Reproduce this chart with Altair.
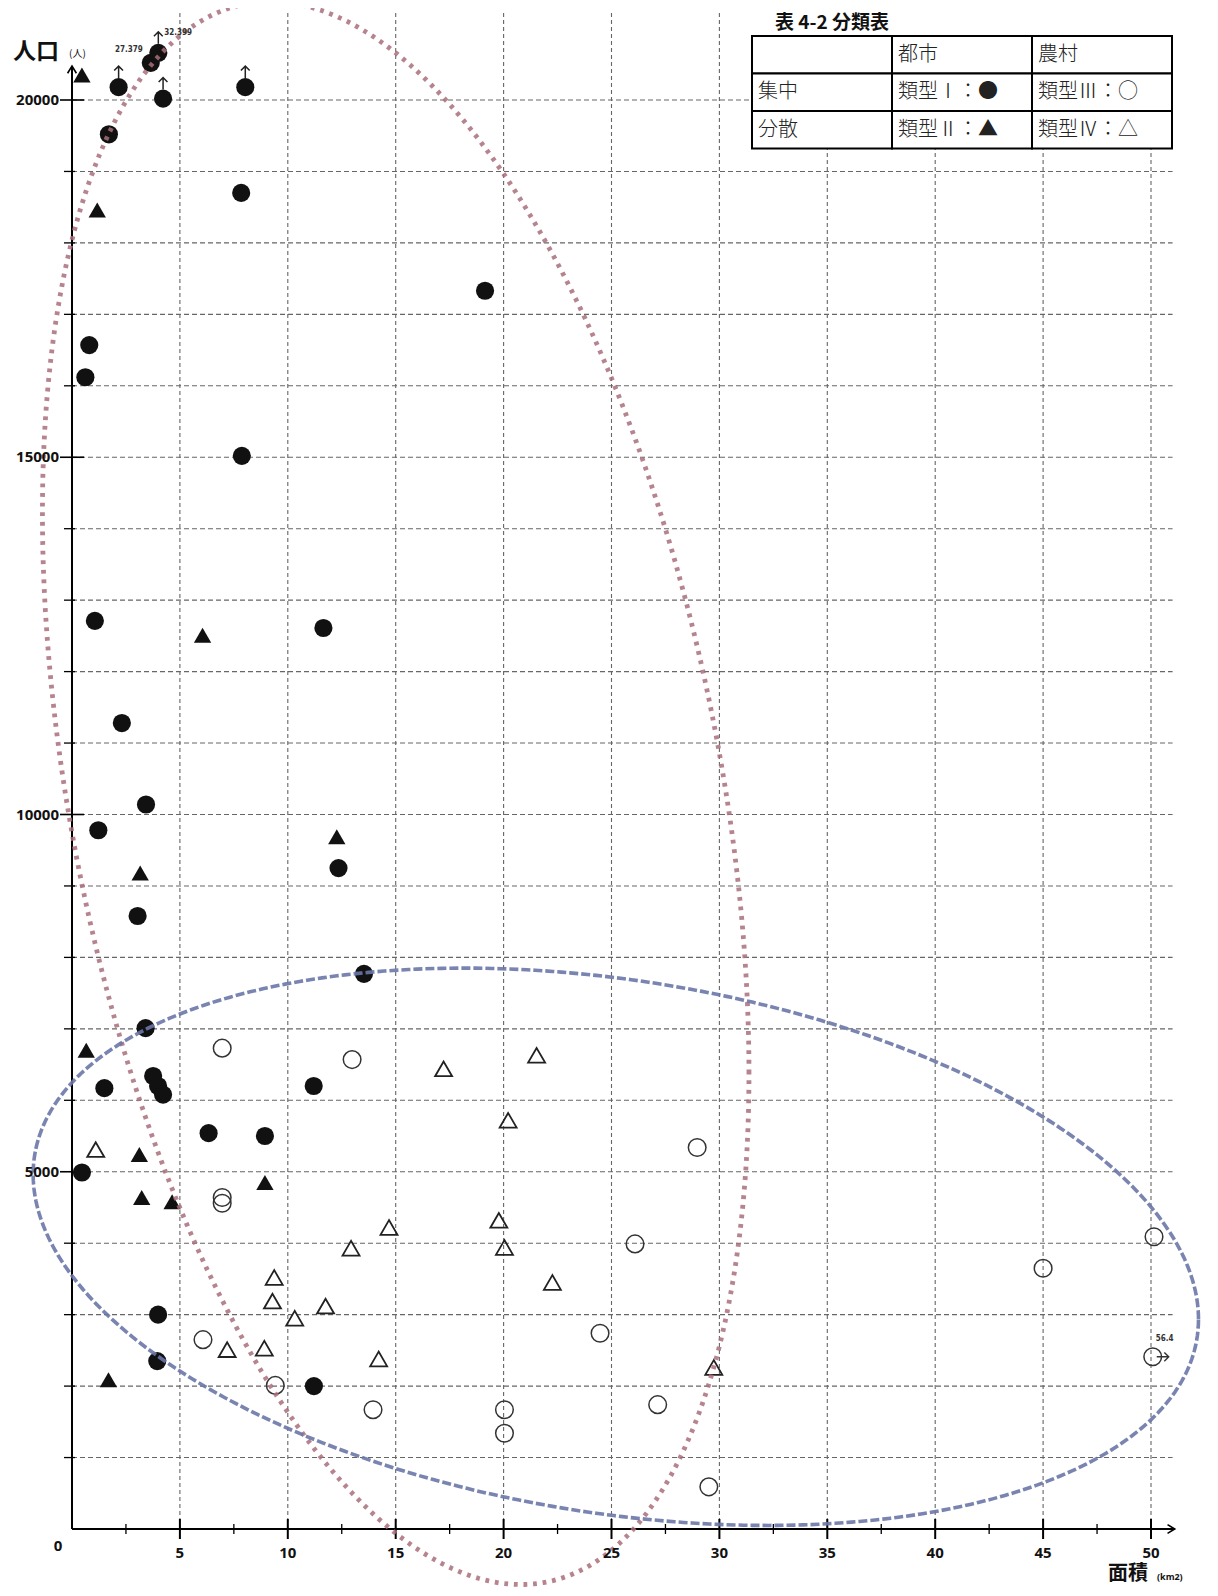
import numpy as np
import pandas as pd
import altair as alt

# ---------------- values ----------------
# 類型Ⅰ 都市・集中 (●)  area km2 / population
t1_area = [3.65, 4.00, 2.16, 4.22, 8.03, 1.71, 7.84, 19.14, 0.80, 0.62, 7.87, 1.06,
           11.65, 2.31, 3.43, 1.22, 12.35, 3.04, 13.53, 3.41, 1.50, 3.76, 3.99, 4.22,
           11.20, 6.33, 8.94, 0.46, 3.99, 3.95, 11.21]
t1_pop = [20520, 20660, 20180, 20020, 20180, 19520, 18700, 17330, 16570, 16120, 15020, 12710,
          12610, 11280, 10140, 9780, 9250, 8580, 7770, 7010, 6170, 6340, 6200, 6080,
          6200, 5540, 5500, 4990, 3000, 2350, 2000]
# off-scale markers (↑) for type I points drawn at the top edge
t1_up = [0, 1, 1, 1, 1] + [0] * 26

# 類型Ⅱ 都市・分散 (▲)
t2_area = [0.46, 1.17, 6.05, 12.27, 3.16, 0.66, 3.12, 8.94, 3.23, 4.64, 1.69]
t2_pop = [20350, 18460, 12510, 9690, 9180, 6700, 5240, 4850, 4640, 4580, 2090]

# 類型Ⅲ 農村・集中 (○)
t3_area = [6.96, 12.98, 28.97, 6.96, 6.96, 26.09, 50.14, 45.00, 24.47, 6.07, 50.08,
           9.42, 13.95, 20.04, 20.04, 27.14, 29.51]
t3_pop = [6730, 6570, 5340, 4640, 4560, 3990, 4090, 3650, 2740, 2650, 2410,
          2010, 1670, 1670, 1340, 1740, 590]

# 類型Ⅳ 農村・分散 (△)
t4_area = [17.22, 21.53, 20.21, 1.10, 14.69, 19.78, 20.04, 12.93, 9.37, 22.26, 9.29,
           11.75, 10.32, 7.19, 8.91, 14.21, 29.74]
t4_pop = [6440, 6630, 5720, 5310, 4220, 4320, 3940, 3930, 3520, 3450, 3190,
          3120, 2950, 2510, 2530, 2380, 2260]

# value annotations of off-scale points
ann_27379 = "27.379"
ann_32399 = "32.399"
ann_564 = "56.4"

x_ticks_major = [5, 10, 15, 20, 25, 30, 35, 40, 45, 50]
x_ticks_minor = [2.5, 7.5, 12.5, 17.5, 22.5, 27.5, 32.5, 37.5, 42.5, 47.5]
y_ticks_all = list(range(1000, 21000, 1000))
y_ticks_major = [5000, 10000, 15000, 20000]

table_rows = [["", "都市", "農村"],
              ["集中", "類型Ⅰ：●", "類型Ⅲ：○"],
              ["分散", "類型Ⅱ：▲", "類型Ⅳ：△"]]
title_text = "表 4-2 分類表"

# ellipse outlines (centre, half extents, phase cosine)
red_ell = dict(cx=15.0, cy=10300, w=16.37, h=11077, cd=-0.354)
blue_ell = dict(cx=25.2, cy=3950, w=27.0, h=3900, cd=-0.26)

# ---------------- layout ----------------
W_PX, H_PX = 1202, 1580
X0_PX, X_PER = 64.0, 21.58
Y0_PX, Y_PER = 1521.0, 0.07145
X_DOMAIN = [(0 - X0_PX) / X_PER, (W_PX - X0_PX) / X_PER]
Y_DOMAIN = [(Y0_PX - H_PX) / Y_PER, Y0_PX / Y_PER]
GRID_TOP = 21218
GRID_RIGHT = 51.0
AXIS_TOP = 20475
AXIS_RIGHT = 51.1


def px2x(px):
    return (px - X0_PX) / X_PER


def px2y(py):
    return (Y0_PX - py) / Y_PER


xs = alt.Scale(domain=X_DOMAIN, zero=False, nice=False)
ys = alt.Scale(domain=Y_DOMAIN, zero=False, nice=False)
X = lambda f: alt.X(f, type="quantitative", scale=xs, axis=None)
Y = lambda f: alt.Y(f, type="quantitative", scale=ys, axis=None)

GRID_COLOR = "#666666"
LABEL_FONT = "Open Sans"
CJK = "Noto Sans CJK JP"

# ---------------- grid ----------------
vgrid = alt.Chart(pd.DataFrame({"x": x_ticks_major, "y0": 0, "y1": GRID_TOP})).mark_rule(
    color=GRID_COLOR, strokeWidth=1.1, strokeDash=[4, 3]
).encode(x=X("x"), y=Y("y0"), y2="y1")

hgrid = alt.Chart(pd.DataFrame({"y": y_ticks_all, "x0": 0, "x1": GRID_RIGHT})).mark_rule(
    color=GRID_COLOR, strokeWidth=1.1, strokeDash=[5, 3]
).encode(y=Y("y"), x=X("x0"), x2="x1")

# ---------------- axes ----------------
yaxis = alt.Chart(pd.DataFrame({"x": [0], "y0": [0], "y1": [AXIS_TOP]})).mark_rule(
    color="black", strokeWidth=2
).encode(x=X("x"), y=Y("y0"), y2="y1")
xaxis = alt.Chart(pd.DataFrame({"y": [0], "x0": [0], "x1": [AXIS_RIGHT]})).mark_rule(
    color="black", strokeWidth=2
).encode(y=Y("y"), x=X("x0"), x2="x1")

UP_HEAD = "M-0.55,0.9L0,0L0.55,0.9"
RIGHT_HEAD = "M-0.9,-0.55L0,0L-0.9,0.55"
yhead = alt.Chart(pd.DataFrame({"x": [0], "y": [AXIS_TOP]})).mark_point(
    shape=UP_HEAD, filled=False, color="black", strokeWidth=1.6, size=256, opacity=1
).encode(x=X("x"), y=Y("y"))
xhead = alt.Chart(pd.DataFrame({"x": [AXIS_RIGHT], "y": [0]})).mark_point(
    shape=RIGHT_HEAD, filled=False, color="black", strokeWidth=1.6, size=256, opacity=1
).encode(x=X("x"), y=Y("y"))

ytick_minor = alt.Chart(pd.DataFrame({"y": [v for v in y_ticks_all if v not in y_ticks_major]})).mark_rule(
    color="black", strokeWidth=1.3
).encode(y=Y("y"), x=alt.value(56), x2=alt.value(67))
ytick_major = alt.Chart(pd.DataFrame({"y": y_ticks_major})).mark_rule(
    color="black", strokeWidth=1.6
).encode(y=Y("y"), x=alt.value(52), x2=alt.value(76))
xtick_minor = alt.Chart(pd.DataFrame({"x": x_ticks_minor})).mark_rule(
    color="black", strokeWidth=1.3
).encode(x=X("x"), y=alt.value(1516), y2=alt.value(1526))
xtick_major = alt.Chart(pd.DataFrame({"x": x_ticks_major})).mark_rule(
    color="black", strokeWidth=2
).encode(x=X("x"), y=alt.value(1511), y2=alt.value(1531))

ylabels = alt.Chart(pd.DataFrame({"y": y_ticks_major, "x": 0, "t": [str(v) for v in y_ticks_major]})).mark_text(
    align="right", baseline="middle", dx=-13, font=LABEL_FONT, fontSize=15, fontWeight="bold", color="#111"
).encode(x=X("x"), y=Y("y"), text="t:N")
xlabels = alt.Chart(pd.DataFrame({"x": x_ticks_major, "y": 0, "t": [str(v) for v in x_ticks_major]})).mark_text(
    align="center", baseline="middle", dy=24, font=LABEL_FONT, fontSize=15, fontWeight="bold", color="#111"
).encode(x=X("x"), y=Y("y"), text="t:N")
zlabel = alt.Chart(pd.DataFrame({"x": [0], "y": [0], "t": ["0"]})).mark_text(
    align="center", baseline="middle", dx=-14, dy=17, font=LABEL_FONT, fontSize=15, fontWeight="bold", color="#111"
).encode(x=X("x"), y=Y("y"), text="t:N")


def txt(px, py, s, size, weight="bold", align="left", font=CJK, color="#111"):
    return alt.Chart(pd.DataFrame({"x": [px2x(px)], "y": [px2y(py)], "t": [s]})).mark_text(
        align=align, baseline="middle", font=font, fontSize=size, fontWeight=weight, color=color
    ).encode(x=X("x"), y=Y("y"), text="t:N")


ytitle = txt(5, 44, "人口", 23) + txt(61, 46, "(人)", 10, weight="normal")
xtitle = txt(1100, 1566, "面積", 20) + txt(1149, 1569, "(km2)", 9, weight="bold", font=LABEL_FONT)

# ---------------- points ----------------
d1 = pd.DataFrame({"x": t1_area, "y": t1_pop, "up": t1_up})
d2 = pd.DataFrame({"x": t2_area, "y": t2_pop})
d3 = pd.DataFrame({"x": t3_area, "y": t3_pop})
d4 = pd.DataFrame({"x": t4_area, "y": t4_pop})

p1 = alt.Chart(d1).mark_point(shape="circle", filled=True, color="#111", size=330, opacity=1).encode(x=X("x"), y=Y("y"))
p2 = alt.Chart(d2).mark_point(shape="triangle-up", filled=True, color="#111", size=300, opacity=1).encode(x=X("x"), y=Y("y"))
p3 = alt.Chart(d3).mark_point(shape="circle", filled=False, color="#333", strokeWidth=1.5, size=310, opacity=1).encode(x=X("x"), y=Y("y"))
p4 = alt.Chart(d4).mark_point(shape="triangle-up", filled=False, color="#222", strokeWidth=1.8, size=289, opacity=1).encode(x=X("x"), y=Y("y"))

UP_ARROW = "M0,0L0,-3M-1.1,-1.9L0,-3L1.1,-1.9"
RIGHT_ARROW = "M0,0L3,0M1.9,-1.1L3,0L1.9,1.1"
uparrows = alt.Chart(d1[d1["up"] == 1]).mark_point(
    shape=UP_ARROW, filled=False, color="#222", strokeWidth=1.5, size=64, opacity=1, yOffset=-9
).encode(x=X("x"), y=Y("y"))
rarrow = alt.Chart(d3.iloc[[10]]).mark_point(
    shape=RIGHT_ARROW, filled=False, color="#333", strokeWidth=1.4, size=64, opacity=1, xOffset=4
).encode(x=X("x"), y=Y("y"))

a1 = alt.Chart(pd.DataFrame({"x": [t1_area[0]], "y": [t1_pop[0]], "t": [ann_27379]})).mark_text(
    align="right", baseline="middle", dx=-8, dy=-13, font="DejaVu Sans Condensed", fontSize=8, fontWeight="bold", color="#333"
).encode(x=X("x"), y=Y("y"), text="t:N")
a2 = alt.Chart(pd.DataFrame({"x": [t1_area[1]], "y": [t1_pop[1]], "t": [ann_32399]})).mark_text(
    align="left", baseline="middle", dx=6, dy=-20, font="DejaVu Sans Condensed", fontSize=8, fontWeight="bold", color="#333"
).encode(x=X("x"), y=Y("y"), text="t:N")
a3 = alt.Chart(pd.DataFrame({"x": [t3_area[10]], "y": [t3_pop[10]], "t": [ann_564]})).mark_text(
    align="center", baseline="middle", dx=12, dy=-18, font="DejaVu Sans Condensed", fontSize=8, fontWeight="bold", color="#333"
).encode(x=X("x"), y=Y("y"), text="t:N")


# ---------------- ellipses ----------------
def ellipse_df(e, n=420):
    t = np.linspace(0, 2 * np.pi, n)
    sd = np.sqrt(1 - e["cd"] ** 2)
    return pd.DataFrame({
        "x": e["cx"] + e["w"] * np.cos(t),
        "y": e["cy"] + e["h"] * (np.cos(t) * e["cd"] + np.sin(t) * sd),
        "i": np.arange(n),
    })


red = alt.Chart(ellipse_df(red_ell)).mark_line(
    color="#a96f7b", strokeWidth=4.8, strokeDash=[3.8, 5.8], strokeCap="butt", opacity=0.85
).encode(x=X("x"), y=Y("y"), order="i:Q")
blue = alt.Chart(ellipse_df(blue_ell)).mark_line(
    color="#6a77a8", strokeWidth=3.6, strokeDash=[9, 3], strokeCap="butt", opacity=0.9
).encode(x=X("x"), y=Y("y"), order="i:Q")

# ---------------- table ----------------
col_edges = [744, 884, 1024, 1164]
row_edges = [28, 65.5, 103, 140.5]
cells = []
for r in range(3):
    for c in range(3):
        cells.append({
            "x0": px2x(col_edges[c]), "x1": px2x(col_edges[c + 1]),
            "y0": px2y(row_edges[r]), "y1": px2y(row_edges[r + 1]),
            "tx": px2x(col_edges[c] + 6), "ty": px2y((row_edges[r] + row_edges[r + 1]) / 2),
            "t": table_rows[r][c],
        })
cells = pd.DataFrame(cells)
cover = alt.Chart(pd.DataFrame({"x0": [px2x(col_edges[0])], "x1": [px2x(col_edges[-1] + 4)],
                                "y0": [px2y(0)], "y1": [px2y(row_edges[0])]})).mark_rect(
    fill="white", stroke=None
).encode(x=X("x0"), x2="x1", y=Y("y0"), y2="y1")
tcells = alt.Chart(cells).mark_rect(fill="white", stroke="black", strokeWidth=2).encode(
    x=X("x0"), x2="x1", y=Y("y0"), y2="y1")
ttext = alt.Chart(cells).mark_text(
    align="left", baseline="middle", font=CJK, fontSize=20, fontWeight=300, color="#222"
).encode(x=X("tx"), y=Y("ty"), text="t:N")
title = txt(767, 15, title_text, 19)

chart = alt.layer(
    vgrid, hgrid, xtick_minor, xtick_major, ytick_minor, ytick_major, yaxis, xaxis, yhead, xhead,
    p1, p2, p3, p4, uparrows, rarrow, red, blue, a1, a2, a3,
    ylabels, xlabels, zlabel, ytitle, xtitle, cover, tcells, ttext, title,
).properties(
    width=W_PX, height=H_PX, autosize=alt.AutoSizeParams(type="none"), padding=0, background="white"
).configure_view(stroke=None)

chart.save("out.html", embed_options={"renderer": "svg", "actions": False})
